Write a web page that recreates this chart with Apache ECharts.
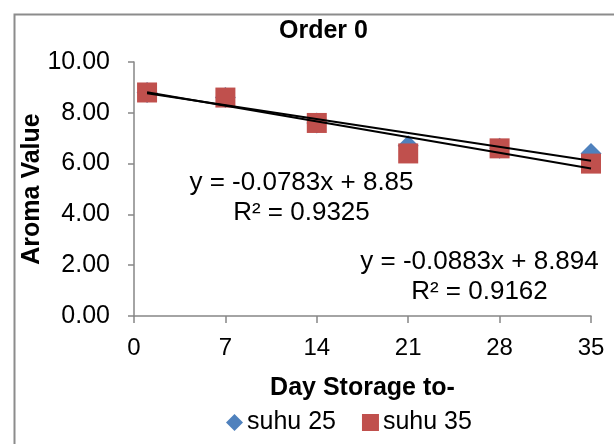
<!DOCTYPE html>
<html>
<head>
<meta charset="utf-8">
<script src="https://cdn.jsdelivr.net/npm/echarts@6/dist/echarts.min.js"></script>
<style>html,body{margin:0;padding:0;background:#fff;}#c{width:614px;height:444px;}</style>
</head>
<body>
<div id="c"></div>
<script>
var days = [1, 7, 14, 21, 28, 35];
var suhu25 = [8.8, 8.6, 7.6, 6.7, 6.6, 6.4];
var suhu35 = [8.8, 8.6, 7.6, 6.4, 6.6, 6.0];
var seriesNames = ['suhu 25', 'suhu 35'];
var trend25 = [-0.0783, 8.85];
var trend35 = [-0.0883, 8.894];
var eq25 = ['y = -0.0783x + 8.85', 'R\u00b2 = 0.9325'];
var eq35 = ['y = -0.0883x + 8.894', 'R\u00b2 = 0.9162'];
var xTicks = [0, 7, 14, 21, 28, 35];
var yTicks = [0, 2, 4, 6, 8, 10];

function pairs(xs, ys) { return xs.map(function (x, i) { return [x, ys[i]]; }); }
function trendLine(c) {
  var x0 = days[0], x1 = days[days.length - 1];
  return [[x0, c[0] * x0 + c[1]], [x1, c[0] * x1 + c[1]]];
}

var FONT = '"Liberation Sans", Arial, sans-serif';
var chart = echarts.init(document.getElementById('c'));
chart.setOption({
  animation: false,
  textStyle: { fontFamily: FONT, color: '#000' },
  title: {
    text: 'Order 0', left: 279, top: 19, padding: 0,
    textStyle: { fontFamily: FONT, fontSize: 25, fontWeight: 'bold', color: '#000' }
  },
  grid: { left: 134, right: 23, top: 62, bottom: 128 },
  legend: {
    data: [{ name: seriesNames[0], icon: 'diamond' }, { name: seriesNames[1], icon: 'rect' }],
    left: 226, top: 410, itemWidth: 17, itemHeight: 17, itemGap: 26, padding: 0,
    textStyle: { fontFamily: FONT, fontSize: 25, color: '#000', padding: [0, 0, 0, -1] }
  },
  xAxis: {
    type: 'value', min: xTicks[0], max: xTicks[xTicks.length - 1], interval: 7,
    name: 'Day Storage to-', nameLocation: 'middle', nameGap: 60, nameMoveOverlap: false,
    nameTextStyle: { fontFamily: FONT, fontSize: 25, fontWeight: 'bold', color: '#000' },
    axisLine: { lineStyle: { color: '#868686', width: 1.5 } },
    axisTick: { show: true, length: 7, lineStyle: { color: '#868686', width: 1.5 } },
    axisLabel: { margin: 20, fontFamily: FONT, fontSize: 24, color: '#000' },
    splitLine: { show: false }
  },
  yAxis: {
    type: 'value', min: yTicks[0], max: yTicks[yTicks.length - 1], interval: 2,
    name: 'Aroma Value', nameLocation: 'middle', nameGap: 89, nameRotate: 90, nameMoveOverlap: false,
    nameTextStyle: { fontFamily: FONT, fontSize: 25, fontWeight: 'bold', color: '#000' },
    axisLine: { show: true, lineStyle: { color: '#868686', width: 1.5 } },
    axisTick: { show: true, length: 6, lineStyle: { color: '#868686', width: 1.5 } },
    axisLabel: { margin: 24, fontFamily: FONT, fontSize: 25, color: '#000',
      formatter: function (v) { return v.toFixed(2); } },
    splitLine: { show: false }
  },
  series: [
    { name: seriesNames[0], type: 'scatter', symbol: 'diamond', symbolSize: 21,
      itemStyle: { color: '#4F81BD', opacity: 1 }, data: pairs(days, suhu25), z: 2 },
    { name: seriesNames[1], type: 'scatter', symbol: 'rect', symbolSize: 20,
      itemStyle: { color: '#C0504D', opacity: 1 }, data: pairs(days, suhu35), z: 3 },
    { name: 'trend25', type: 'line', data: trendLine(trend25), symbol: 'none',
      lineStyle: { color: '#000', width: 2 }, z: 4, silent: true },
    { name: 'trend35', type: 'line', data: trendLine(trend35), symbol: 'none',
      lineStyle: { color: '#000', width: 2 }, z: 4, silent: true }
  ],
  graphic: [
    { type: 'rect', left: 12, top: 12, shape: { width: 700, height: 600 },
      style: { fill: 'none', stroke: '#8c8c8c', lineWidth: 2 }, z: -1, silent: true },
    { type: 'text', x: 301.5, y: 198, z: 10,
      style: { text: eq25.join('\n'), font: '26px ' + FONT, fill: '#000',
        align: 'center', verticalAlign: 'middle', lineHeight: 30 } },
    { type: 'text', x: 479.5, y: 277, z: 10,
      style: { text: eq35.join('\n'), font: '26px ' + FONT, fill: '#000',
        align: 'center', verticalAlign: 'middle', lineHeight: 30 } }
  ]
});
</script>
</body>
</html>
